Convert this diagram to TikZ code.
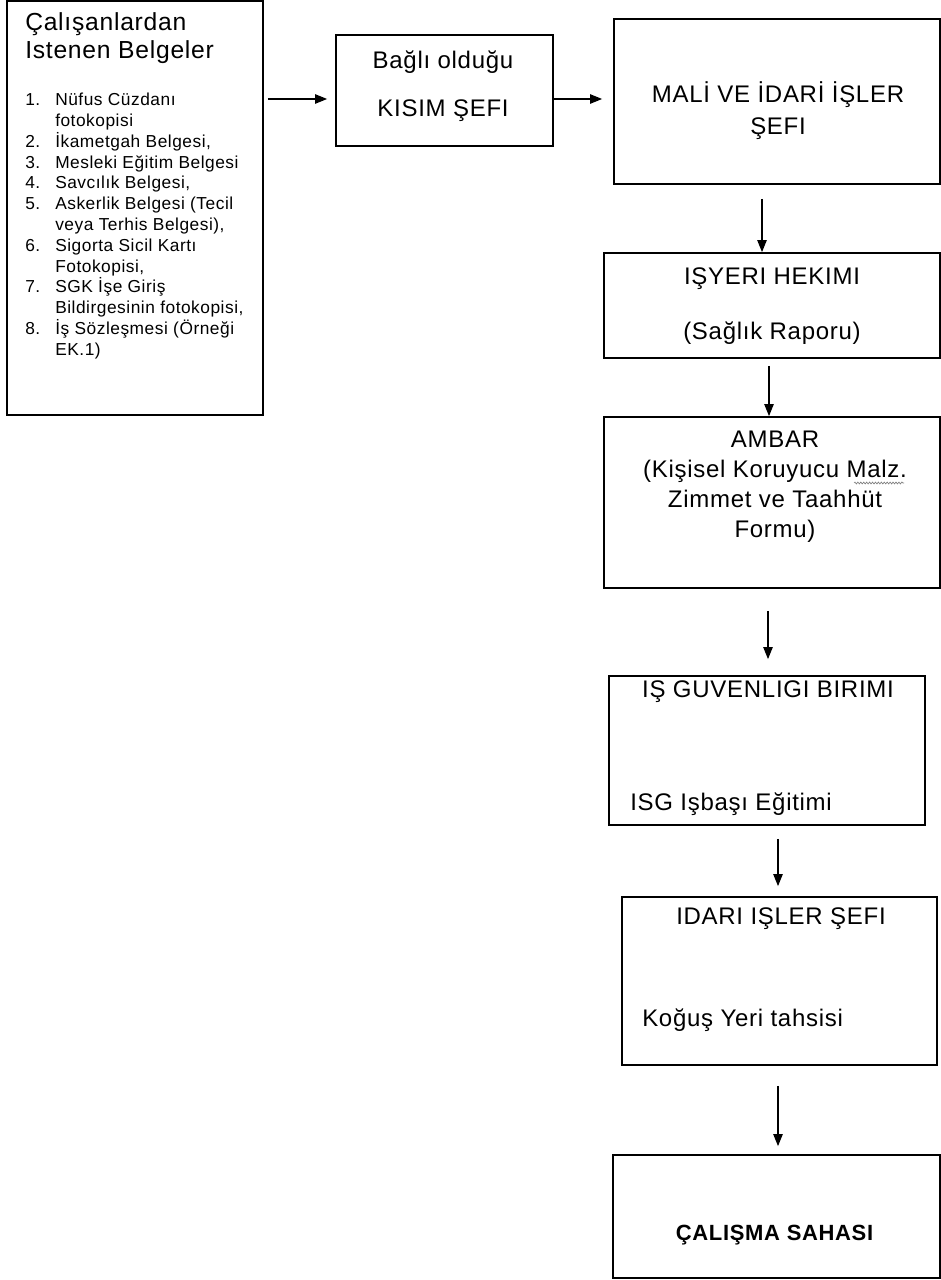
\documentclass[tikz,border=0pt]{standalone}
\usepackage{fontspec}
\setmainfont{Liberation Sans}[LetterSpace=3]
\usepackage{tikz}
\usetikzlibrary{arrows.meta,positioning,decorations.pathmorphing}

\newcommand{\madde}[1]{\makebox[22.5pt][l]{#1}}
\newcommand{\devam}{\hspace*{22.5pt}}

\begin{document}
\begin{tikzpicture}[x=0.75pt,y=-0.75pt,
	kutu/.style 2 args={draw, line width=1.3pt, minimum width=#1*0.75pt, minimum height=#2*0.75pt, inner sep=0pt},
	yazi/.style={inner sep=0pt, align=center},
	ok/.style={-{Triangle[length=9pt,width=7pt]}, line width=1pt}]
	\useasboundingbox[fill=white] (0,0) rectangle (940,1280);

	% kutular
	\node[kutu={256}{414}] (belgeler) at (135,208) {};
	\node[kutu={217}{111}] (kisim) at (444.5,90.5) {};
	\node[kutu={326}{165}] (mali) at (777,101.5) {};
	\node[kutu={336}{105}] (hekim) at (772,305.5) {};
	\node[kutu={336}{171}] (ambar) at (772,502.5) {};
	\node[kutu={316}{149}] (isg) at (767,750.5) {};
	\node[kutu={315}{168}] (idari) at (779.5,981) {};
	\node[kutu={327}{123}] (saha) at (776.5,1216.5) {};

	% yazilar
	\node[yazi, align=left, anchor=west, font=\fontsize{18.5}{21}\selectfont] (baslik) at (25,38) {Çalışanlardan\\Istenen Belgeler};
	\node[yazi, align=left, anchor=west, font=\fontsize{13}{15.6}\selectfont] (liste) at (25,226) {%
		\madde{1.}Nüfus Cüzdanı\\ \devam fotokopisi\\
		\madde{2.}İkametgah Belgesi,\\
		\madde{3.}Mesleki Eğitim Belgesi\\
		\madde{4.}Savcılık Belgesi,\\
		\madde{5.}Askerlik Belgesi (Tecil\\ \devam veya Terhis Belgesi),\\
		\madde{6.}Sigorta Sicil Kartı\\ \devam Fotokopisi,\\
		\madde{7.}SGK İşe Giriş\\ \devam Bildirgesinin fotokopisi,\\
		\madde{8.}İş Sözleşmesi (Örneği\\ \devam EK.1)};
	\node[yazi, font=\fontsize{18}{36}\selectfont] (kisim-y) at (443,86) {Bağlı olduğu\\KISIM ŞEFI};
	\node[yazi, font=\fontsize{18}{24}\selectfont] (mali-y) at (778,111) {MALİ VE İDARİ İŞLER\\ŞEFI};
	\node[yazi, font=\fontsize{18}{41}\selectfont] (hekim-y) at (772,306) {IŞYERI HEKIMI\\(Sağlık Raporu)};
	\node[yazi, font=\fontsize{18}{22.5}\selectfont] (ambar-y) at (775,487) {AMBAR\\(Kişisel Koruyucu Malz.\\Zimmet ve Taahhüt\\Formu)};
	\draw[gray, line width=0.5pt, decorate, decoration={snake, amplitude=0.7pt, segment length=2.2pt}] (854,483) -- (904,483);
	\node[yazi, font=\fontsize{18}{22}\selectfont] (isg-y) at (768,692) {IŞ GUVENLIGI BIRIMI};
	\node[yazi, anchor=west, font=\fontsize{18}{22}\selectfont] (isg-alt) at (630,804) {ISG Işbaşı Eğitimi};
	\node[yazi, font=\fontsize{18}{22}\selectfont] (idari-y) at (781,919) {IDARI IŞLER ŞEFI};
	\node[yazi, anchor=west, font=\fontsize{18}{22}\selectfont] (idari-alt) at (642,1020) {Koğuş Yeri tahsisi};
	\node[yazi, font=\bfseries\fontsize{16.5}{19}\selectfont] (saha-y) at (774.5,1235) {ÇALIŞMA SAHASI};

	% oklar
	\path [ok]
	([yshift=81.75pt]belgeler.east) edge[shorten <=3pt, shorten >=6pt] ([yshift=-6.375pt]kisim.west)
	([yshift=-6.375pt]kisim.east) edge[shorten >=8.25pt] ([yshift=1.875pt]mali.west)
	([xshift=-11.25pt]mali.south) edge[shorten <=10.5pt] ([xshift=-7.5pt]hekim.north)
	([xshift=-2.25pt]hekim.south) edge[shorten <=5.25pt] ([xshift=-2.25pt]ambar.north)
	([xshift=-3pt]ambar.south) edge[shorten <=16.5pt, shorten >=12pt] ([xshift=0.75pt]isg.north)
	([xshift=8.25pt]isg.south) edge[shorten <=9.75pt, shorten >=7.5pt] ([xshift=-1.125pt]idari.north)
	([xshift=-1.125pt]idari.south) edge[shorten <=15pt, shorten >=6pt] ([xshift=1.125pt]saha.north);
\end{tikzpicture}
\end{document}
